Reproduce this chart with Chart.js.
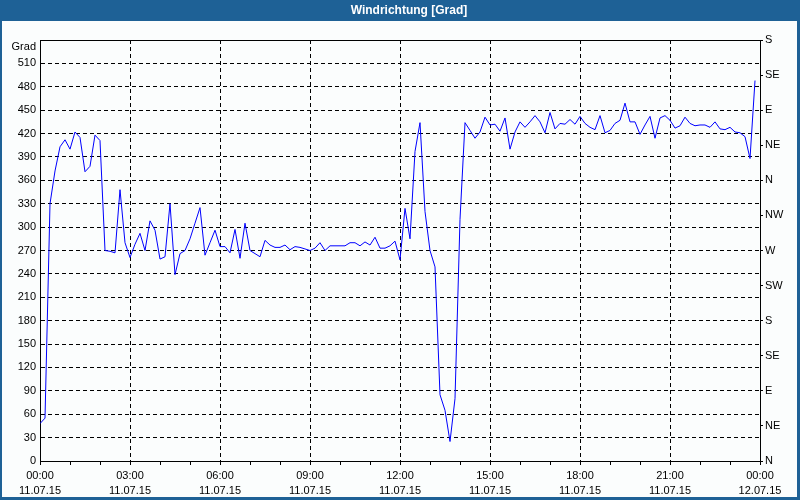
<!DOCTYPE html>
<html>
<head>
<meta charset="utf-8">
<script src="https://cdn.jsdelivr.net/npm/chart.js@4"></script>
<style>
  html, body { margin: 0; padding: 0; background: #fff; }
  canvas { display: block; }
</style>
</head>
<body>
<canvas id="wind" width="800" height="500"></canvas>
<script>
// one reading every 10 minutes, 11.07.15 00:00 .. 23:50
const stepMinutes = 10;
const windDir = [
  48, 55, 330, 372, 403, 412, 400, 422, 415, 371,
  378, 418, 411, 270, 269, 267, 348, 280, 261, 278,
  292, 270, 308, 296, 259, 262, 330, 239, 266, 270,
  285, 305, 325, 264, 280, 296, 275, 275, 267, 297,
  260, 305, 270, 266, 262, 283, 277, 274, 274, 277,
  271, 275, 274, 272, 270, 273, 280, 270, 276, 276,
  276, 276, 280, 280, 276, 281, 277, 287, 273, 273,
  276, 282, 258, 324, 285, 397, 434, 320, 270, 249,
  85, 65, 25, 80, 310, 434, 424, 414, 422, 441,
  431, 432, 423, 440, 400, 422, 435, 428, 435, 443,
  435, 421, 447, 426, 433, 432, 438, 432, 442, 433,
  428, 425, 443, 421, 424, 433, 437, 459, 435, 435,
  419, 431, 442, 414, 440, 443, 437, 427, 430, 441,
  433, 430, 431, 431, 428, 435, 426, 425, 428, 422,
  421, 416, 388, 488
];
const hourLabels = ['00:00', '03:00', '06:00', '09:00', '12:00', '15:00', '18:00', '21:00', '00:00'];
const dateLabels = ['11.07.15', '11.07.15', '11.07.15', '11.07.15', '11.07.15', '11.07.15', '11.07.15', '11.07.15', '12.07.15'];
const compass = ['N', 'NE', 'E', 'SE', 'S', 'SW', 'W', 'NW', 'N', 'NE', 'E', 'SE', 'S'];
const titleText = 'Windrichtung [Grad]';

const points = windDir.map((v, i) => ({ x: i * stepMinutes, y: v }));

Chart.defaults.font.family = "'Liberation Sans', Arial, sans-serif";
Chart.defaults.font.size = 11;
Chart.defaults.color = '#000';

// blue window frame + title bar, solid top line of the plot box
const frame = {
  id: 'frame',
  beforeDraw(chart) {
    const { ctx, width, height } = chart;
    ctx.save();
    ctx.fillStyle = '#1e6196';
    ctx.fillRect(0, 0, width, height);
    ctx.fillStyle = '#fbfdfd';
    ctx.fillRect(2, 21, width - 5, height - 24);
    ctx.fillStyle = '#fff';
    ctx.font = "bold 12px 'Liberation Sans', Arial, sans-serif";
    ctx.textAlign = 'center';
    ctx.textBaseline = 'middle';
    ctx.fillText(titleText, 409, 10.5);
    ctx.restore();
  },
  afterDraw(chart) {
    const { ctx, chartArea } = chart;
    ctx.save();
    ctx.strokeStyle = '#000';
    ctx.lineWidth = 1;
    ctx.beginPath();
    ctx.moveTo(chartArea.left, Math.round(chartArea.top) + 0.5);
    ctx.lineTo(chartArea.right + 1, Math.round(chartArea.top) + 0.5);
    ctx.stroke();
    ctx.restore();
  }
};

new Chart(document.getElementById('wind'), {
  type: 'line',
  data: {
    datasets: [{
      label: 'Windrichtung',
      data: points,
      borderColor: '#0000ff',
      borderWidth: 1,
      pointRadius: 0,
      tension: 0,
      fill: false
    }]
  },
  options: {
    responsive: false,
    animation: false,
    layout: { padding: { top: 40, left: 0, right: 0, bottom: 0 } },
    plugins: {
      legend: { display: false },
      tooltip: { enabled: false },
      title: { display: false }
    },
    scales: {
      x: {
        type: 'linear',
        min: 0,
        max: 1440,
        afterFit: s => { s.height = 39; },
        ticks: {
          stepSize: 60,
          autoSkip: false,
          maxRotation: 0,
          padding: 4,
          font: { size: 11, lineHeight: 1.32 },
          callback: v => (v % 180 === 0 ? [hourLabels[v / 180], dateLabels[v / 180]] : '')
        },
        grid: {
          color: c => (c.tick && c.tick.value % 180 === 0 ? '#000' : 'rgba(0,0,0,0)'),
          tickColor: '#000',
          tickLength: 4
        },
        border: { color: '#000', dash: [4, 3] }
      },
      y: {
        position: 'left',
        min: 0,
        max: 540,
        afterFit: s => { s.width = 40; },
        ticks: {
          stepSize: 30,
          autoSkip: false,
          padding: 4,
          callback: v => (v === 540 ? ['', 'Grad'] : String(v))
        },
        grid: {
          drawTicks: false,
          color: c => (c.tick && c.tick.value === 540 ? 'rgba(0,0,0,0)' : '#000')
        },
        border: { color: '#000', dash: [4, 3] }
      },
      y2: {
        position: 'right',
        min: 0,
        max: 540,
        afterFit: s => { s.width = 40; },
        ticks: {
          stepSize: 45,
          autoSkip: false,
          padding: 2,
          callback: v => compass[Math.round(v / 45)]
        },
        grid: {
          drawOnChartArea: false,
          tickColor: '#000',
          tickLength: 3
        },
        border: { color: '#000' }
      }
    }
  },
  plugins: [frame]
});
</script>
</body>
</html>
